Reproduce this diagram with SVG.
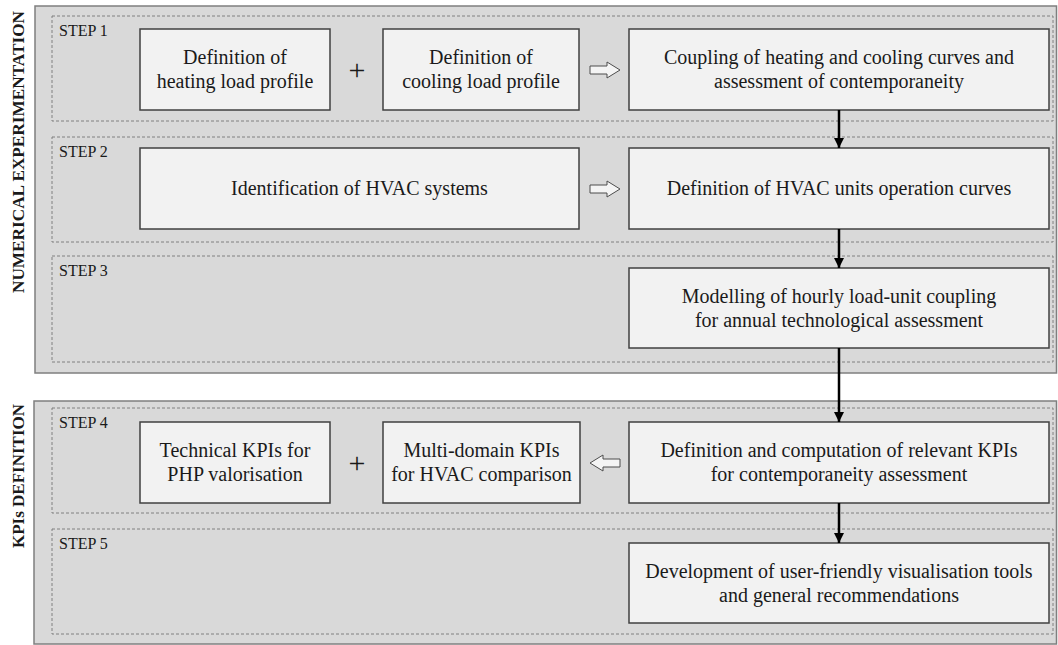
<svg xmlns="http://www.w3.org/2000/svg" width="1058" height="645" viewBox="0 0 1058 645">
<style>
.panel{fill:#d9d9d9;stroke:#7f7f7f;stroke-width:1.5}
.step{fill:none;stroke:#808080;stroke-width:1;stroke-dasharray:3 2}
.box{fill:#f2f2f2;stroke:#404040;stroke-width:1.5}
.t{font-family:"Liberation Serif","Times New Roman",serif;font-size:20px;fill:#1a1a1a;text-anchor:middle}
.s{font-family:"Liberation Serif","Times New Roman",serif;font-size:16px;fill:#1a1a1a}
.side{font-family:"Liberation Serif","Times New Roman",serif;font-size:17px;font-weight:bold;fill:#1a1a1a;text-anchor:middle}
.plus{font-family:"Liberation Serif","Times New Roman",serif;font-size:30px;fill:#1a1a1a;text-anchor:middle}
.hollow{fill:#f4f4f4;stroke:#4d4d4d;stroke-width:1}
.conn{stroke:#000;stroke-width:2.5;fill:none}
</style>
<defs>
<marker id="ah" viewBox="0 0 10 10" refX="10" refY="5" markerWidth="10" markerHeight="10" markerUnits="userSpaceOnUse" orient="auto">
<path d="M0,0 L10,5 L0,10 z" fill="#000"/>
</marker>
</defs>
<rect x="0" y="0" width="1058" height="645" fill="#ffffff"/>

<g id="panel-numerical">
<rect class="panel" x="35" y="6" width="1021.5" height="367"/>
<text class="side" transform="translate(23.5,152) rotate(-90)" textLength="282" lengthAdjust="spacingAndGlyphs">NUMERICAL EXPERIMENTATION</text>
</g>
<g id="panel-kpis">
<rect class="panel" x="34" y="401" width="1022.5" height="243"/>
<text class="side" transform="translate(23.5,476) rotate(-90)">KPIs DEFINITION</text>
</g>

<g id="step1">
<rect class="step" x="52" y="16" width="1001" height="105"/>
<text class="s" x="59" y="36">STEP 1</text>
</g>
<g id="step2">
<rect class="step" x="52" y="137" width="1001" height="105"/>
<text class="s" x="59" y="157">STEP 2</text>
</g>
<g id="step3">
<rect class="step" x="52" y="256" width="1001" height="106"/>
<text class="s" x="59" y="276">STEP 3</text>
</g>
<g id="step4">
<rect class="step" x="52" y="408" width="1001" height="105"/>
<text class="s" x="59" y="428">STEP 4</text>
</g>
<g id="step5">
<rect class="step" x="52" y="529" width="1001" height="105"/>
<text class="s" x="59" y="549">STEP 5</text>
</g>

<g id="heating-load">
<rect class="box" x="140" y="29" width="190" height="81"/>
<text class="t" x="235" y="64">Definition of</text>
<text class="t" x="235" y="88">heating load profile</text>
</g>
<text class="plus" x="357" y="80">+</text>
<g id="cooling-load">
<rect class="box" x="383" y="29" width="196" height="81"/>
<text class="t" x="481" y="64">Definition of</text>
<text class="t" x="481" y="88">cooling load profile</text>
</g>
<g id="coupling">
<rect class="box" x="629" y="29" width="420" height="81"/>
<text class="t" x="839" y="64">Coupling of heating and cooling curves and</text>
<text class="t" x="839" y="88">assessment of contemporaneity</text>
</g>

<g id="hvac-systems">
<rect class="box" x="140" y="148" width="439" height="81"/>
<text class="t" x="359.5" y="195">Identification of HVAC systems</text>
</g>
<g id="hvac-curves">
<rect class="box" x="629" y="148" width="420" height="81"/>
<text class="t" x="839" y="195">Definition of HVAC units operation curves</text>
</g>

<g id="modelling">
<rect class="box" x="629" y="268" width="420" height="80"/>
<text class="t" x="839" y="303">Modelling of hourly load-unit coupling</text>
<text class="t" x="839" y="327">for annual technological assessment</text>
</g>

<g id="technical-kpis">
<rect class="box" x="140" y="422" width="190" height="81"/>
<text class="t" x="235" y="457">Technical KPIs for</text>
<text class="t" x="235" y="481">PHP valorisation</text>
</g>
<text class="plus" x="357" y="473">+</text>
<g id="multidomain-kpis">
<rect class="box" x="383" y="422" width="197" height="81"/>
<text class="t" x="481.5" y="457">Multi-domain KPIs</text>
<text class="t" x="481.5" y="481">for HVAC comparison</text>
</g>
<g id="kpi-computation">
<rect class="box" x="629" y="422" width="420" height="81"/>
<text class="t" x="839" y="457">Definition and computation of relevant KPIs</text>
<text class="t" x="839" y="481">for contemporaneity assessment</text>
</g>

<g id="visualisation">
<rect class="box" x="629" y="543" width="420" height="80"/>
<text class="t" x="839" y="578">Development of user-friendly visualisation tools</text>
<text class="t" x="839" y="602">and general recommendations</text>
</g>

<g id="connectors">
<polygon class="hollow" points="590,66 607,66 607,62 620,70 607,78 607,74 590,74"/>
<polygon class="hollow" points="590,185 607,185 607,181 620,189 607,197 607,193 590,193"/>
<polygon class="hollow" points="620,459 603,459 603,455 590,463 603,471 603,467 620,467"/>
<line class="conn" x1="839" y1="110" x2="839" y2="148" marker-end="url(#ah)"/>
<line class="conn" x1="839" y1="229" x2="839" y2="268" marker-end="url(#ah)"/>
<line class="conn" x1="839" y1="348" x2="839" y2="422" marker-end="url(#ah)"/>
<line class="conn" x1="839" y1="503" x2="839" y2="543" marker-end="url(#ah)"/>
</g>
</svg>
